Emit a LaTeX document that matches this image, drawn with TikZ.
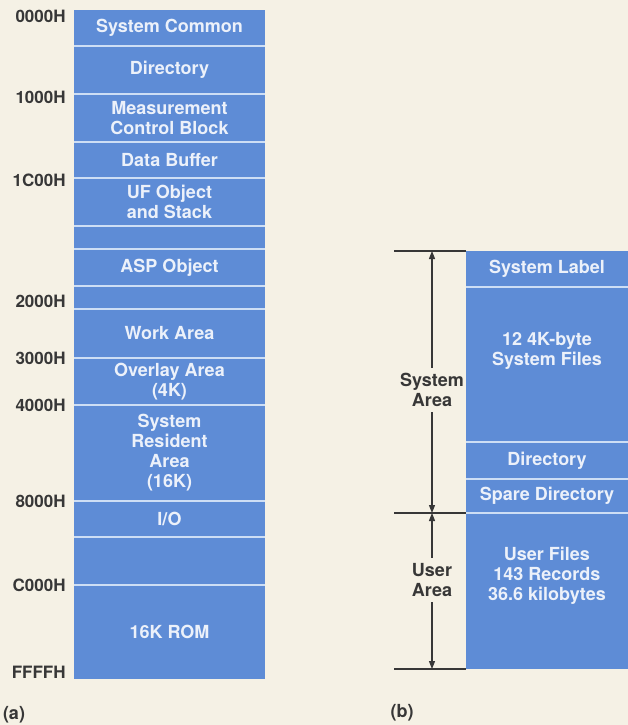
\documentclass[tikz,border=0pt]{standalone}
\usepackage{fontspec}
\setmainfont{TeX Gyre Heros}
\usepackage{tikz}
\usetikzlibrary{arrows.meta,positioning}

\definecolor{paper}{RGB}{245,241,229}
\definecolor{memblue}{RGB}{94,140,214}
\definecolor{memline}{RGB}{205,222,245}
\definecolor{memtext}{RGB}{236,241,250}
\definecolor{ink}{RGB}{55,55,55}

\begin{document}
\begin{tikzpicture}[
  x=0.5pt, y=-0.5pt,
  font=\fontsize{9}{10}\selectfont\bfseries,
  >={Triangle[length=4pt,width=3pt]},
  mem/.style={rectangle, fill=memblue, text=memtext, align=center, inner sep=1pt, outer sep=0pt, minimum width=95.5pt},
  disk/.style={mem, minimum width=81pt},
  txt/.style={text=memtext, align=center, inner sep=0pt},
  sep/.style={draw=memline, line width=1pt},
  addr/.style={text=ink, inner sep=0pt, font=\fontsize{8.5}{10}\selectfont\bfseries},
  side/.style={text=ink, align=center, inner sep=2.5pt},
  tick/.style={draw=ink, line width=0.7pt},
  arr/.style={->, draw=ink, line width=0.6pt},
]
\fill[paper] (0,0) rectangle (628,725);
\useasboundingbox (0,0) rectangle (628,725);

% (a) memory map
\node[mem, minimum height=18pt, anchor=north] (common) at (169.5,10) {System Common};
\node[mem, minimum height=24pt, below=0pt of common] (dir) {Directory};
\node[mem, minimum height=24pt, below=0pt of dir] (mcb) {Measurement\\Control Block};
\node[mem, minimum height=18pt, below=0pt of mcb] (buffer) {Data Buffer};
\node[mem, minimum height=24pt, below=0pt of buffer] (ufobj) {UF Object\\and Stack};
\node[mem, minimum height=11.5pt, below=0pt of ufobj] (gapa) {};
\node[mem, minimum height=18.5pt, below=0pt of gapa] (aspobj) {ASP Object};
\node[mem, minimum height=11.5pt, below=0pt of aspobj] (gapb) {};
\node[mem, minimum height=24.5pt, below=0pt of gapb] (work) {Work Area};
\node[mem, minimum height=23.5pt, below=0pt of work] (overlay) {Overlay Area\\(4K)};
\node[mem, minimum height=48pt, below=0pt of overlay] (resident) {System\\Resident\\Area\\(16K)};
\node[mem, minimum height=18pt, below=0pt of resident] (io) {I/O};
\node[mem, minimum height=24pt, below=0pt of io] (gapc) {};
\node[mem, minimum height=47pt, below=0pt of gapc] (rom) {16K ROM};

\draw[sep] (common.south west) -- (common.south east);
\draw[sep] (dir.south west) -- (dir.south east);
\draw[sep] (mcb.south west) -- (mcb.south east);
\draw[sep] (buffer.south west) -- (buffer.south east);
\draw[sep] (ufobj.south west) -- (ufobj.south east);
\draw[sep] (gapa.south west) -- (gapa.south east);
\draw[sep] (aspobj.south west) -- (aspobj.south east);
\draw[sep] (gapb.south west) -- (gapb.south east);
\draw[sep] (work.south west) -- (work.south east);
\draw[sep] (overlay.south west) -- (overlay.south east);
\draw[sep] (resident.south west) -- (resident.south east);
\draw[sep] (io.south west) -- (io.south east);
\draw[sep] (gapc.south west) -- (gapc.south east);

% addresses
\node[addr, left=4pt of common.north west, yshift=-3pt] (a0000) {0000H};
\node[addr, left=4pt of mcb.north west, yshift=-1.5pt] (a1000) {1000H};
\node[addr, left=4pt of ufobj.north west, yshift=-1pt] (a1c00) {1C00H};
\node[addr, left=4pt of work.north west, yshift=4pt] (a2000) {2000H};
\node[addr, left=4pt of overlay.north west] (a3000) {3000H};
\node[addr, left=4pt of resident.north west] (a4000) {4000H};
\node[addr, left=4pt of io.north west] (a8000) {8000H};
\node[addr, left=4pt of rom.north west] (ac000) {C000H};
\node[addr, left=4pt of rom.south west, yshift=3.5pt] (affff) {FFFFH};

% (b) disc layout
\node[disk, minimum height=18pt, anchor=north] (syslbl) at (547,251) {System Label};
\node[disk, minimum height=77.5pt, below=0pt of syslbl] (sysfiles) {};
\node[disk, minimum height=18.5pt, below=0pt of sysfiles] (rdir) {Directory};
\node[disk, minimum height=17pt, below=0pt of rdir] (spare) {Spare Directory};
\node[disk, minimum height=78pt, below=0pt of spare] (userfiles) {};
\node[txt] (sysfilestxt) at ([yshift=7pt]sysfiles.center) {12 4K-byte\\System Files};
\node[txt] (userfilestxt) at ([yshift=7.5pt]userfiles.center) {User Files\\143 Records\\36.6 kilobytes};

\draw[sep] (syslbl.south west) -- (syslbl.south east);
\draw[sep] (sysfiles.south west) -- (sysfiles.south east);
\draw[sep] (rdir.south west) -- (rdir.south east);
\draw[sep] (spare.south west) -- (spare.south east);

\coordinate (tk) at (394,0);
\draw[tick] (syslbl.north west -| tk) -- (syslbl.north west);
\draw[tick] (userfiles.north west -| tk) -- (userfiles.north west);
\draw[tick] (userfiles.south west -| tk) -- (userfiles.south west);

\node[side] (sysarea) at (432,390) {System\\Area};
\node[side] (userarea) at (432,580) {User\\Area};
\draw[arr] (sysarea.north) -- (sysarea.north |- syslbl.north);
\draw[arr] (sysarea.south) -- (sysarea.south |- userfiles.north);
\draw[arr] (userarea.north) -- (userarea.north |- userfiles.north);
\draw[arr] (userarea.south) -- (userarea.south |- userfiles.south);

\node[side] (capa) at (14,715) {(a)};
\node[side] (capb) at (402,713) {(b)};
\end{tikzpicture}
\end{document}
